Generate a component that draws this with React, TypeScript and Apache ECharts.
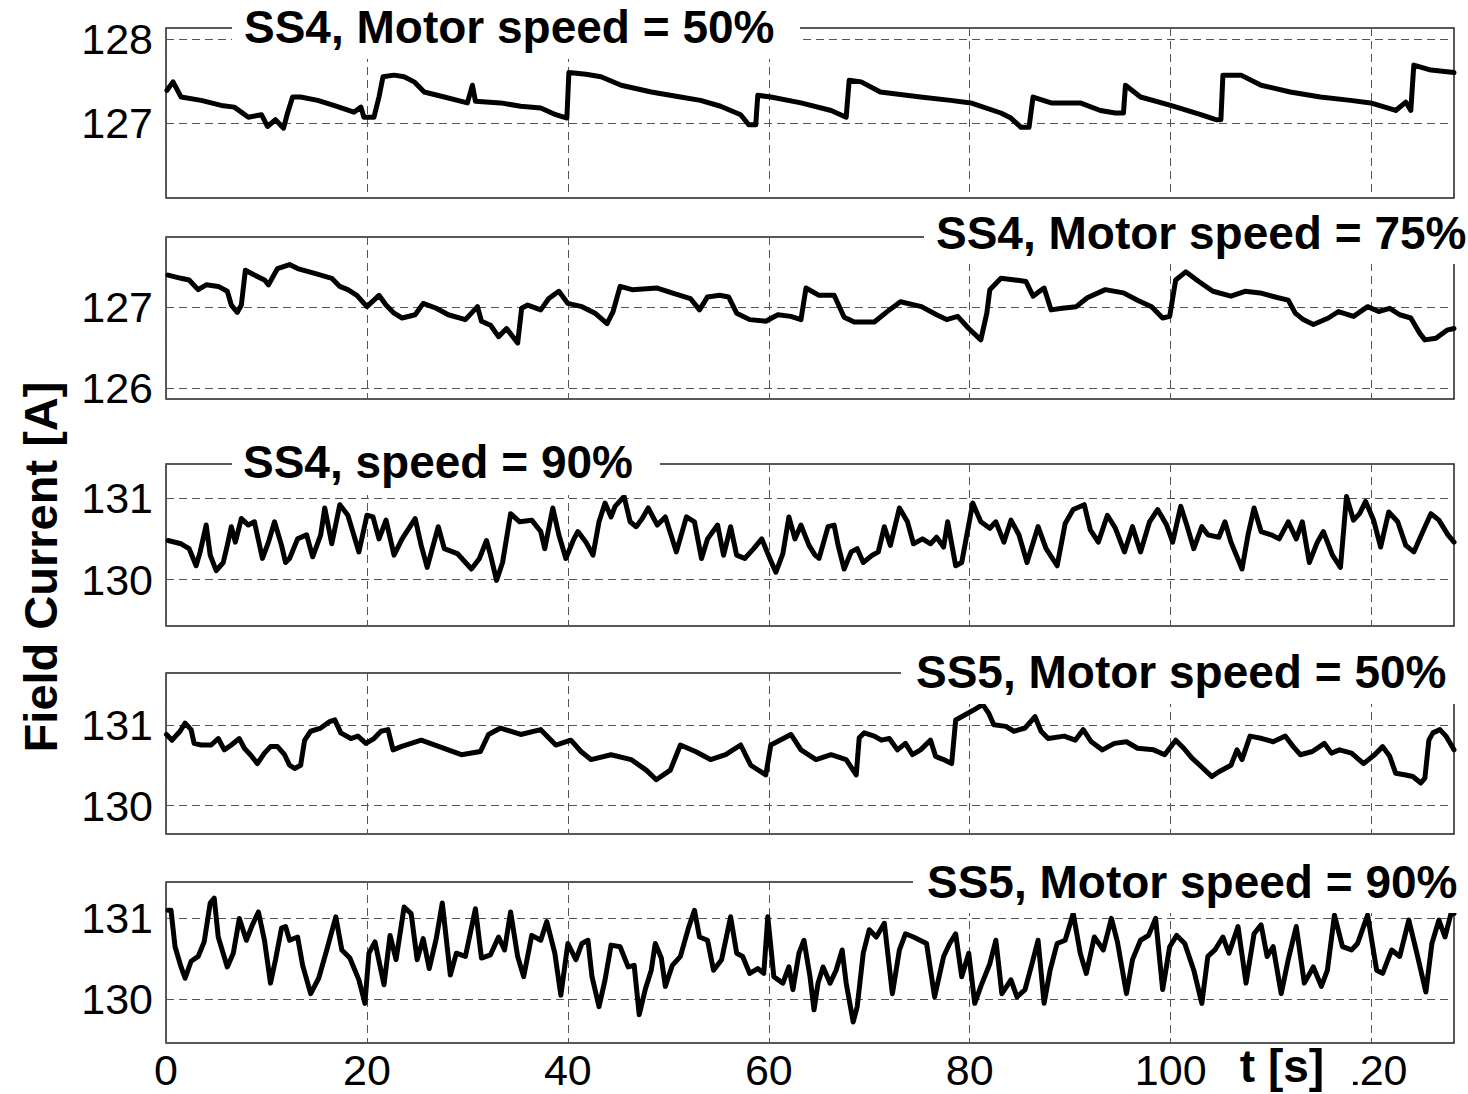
import { useEffect, useRef } from "react";
import * as echarts from "echarts";

const xTicks = [0, 20, 40, 60, 80, 100, 120];
const tMax = 128.2;

const panelTitles = [
  "SS4, Motor speed = 50%",
  "SS4, Motor speed = 75%",
  "SS4, speed = 90%",
  "SS5, Motor speed = 50%",
  "SS5, Motor speed = 90%",
];
const yTicks = [[127, 128], [126, 127], [130, 131], [130, 131], [130, 131]];
const yMins = [126.11, 125.87, 129.43, 129.65, 129.46];
const yMaxs = [128.13, 127.87, 131.42, 131.64, 131.45];

const ss4Speed50: [number, number][] = [
  [0.1,127.39],[0.7,127.49],[1.5,127.31],[3.5,127.27],[5.5,127.21],[6.8,127.19],[8.2,127.07],[9.5,127.10],
  [10.1,126.96],[10.9,127.04],[11.7,126.94],[12.1,127.12],[12.6,127.31],[13.4,127.31],[15.1,127.27],[16.7,127.21],
  [18.7,127.13],[19.4,127.19],[19.7,127.07],[20.7,127.07],[21.2,127.31],[21.6,127.55],[22.7,127.57],[23.7,127.55],
  [24.7,127.49],[25.7,127.37],[27.7,127.31],[30.0,127.24],[30.5,127.45],[30.8,127.26],[33.3,127.24],[35.3,127.20],
  [37.3,127.18],[38.8,127.10],[39.9,127.06],[40.1,127.60],[41.8,127.58],[43.3,127.55],[45.3,127.45],[48.3,127.37],
  [51.2,127.31],[53.2,127.27],[55.2,127.20],[57.2,127.10],[58.0,126.98],[58.7,126.98],[58.9,127.33],[60.2,127.31],
  [63.2,127.24],[66.2,127.15],[67.7,127.07],[68.0,127.51],[69.2,127.49],[71.1,127.37],[75.1,127.31],[78.1,127.27],
  [80.1,127.24],[83.1,127.12],[84.1,127.06],[85.1,126.95],[85.9,126.95],[86.3,127.31],[88.1,127.24],[91.0,127.24],
  [93.0,127.15],[94.5,127.12],[95.3,127.12],[95.5,127.45],[97.0,127.31],[100.0,127.21],[103.0,127.10],[104.5,127.04],
  [105.0,127.04],[105.2,127.57],[107.0,127.57],[109.0,127.45],[111.9,127.37],[114.9,127.31],[117.9,127.27],[119.9,127.24],
  [122.4,127.15],[123.4,127.25],[123.9,127.15],[124.2,127.69],[125.9,127.63],[128.2,127.60],
];

const ss4Speed75: [number, number][] = [
  [0.2,127.40],[1.5,127.36],[2.3,127.34],[3.2,127.22],[4,127.28],[5.2,127.26],[6.1,127.20],[6.5,127.03],[7.1,126.94],
  [7.5,127.03],[7.9,127.46],[8.8,127.40],[9.8,127.34],[10.2,127.28],[11.1,127.48],[12.3,127.53],[13.1,127.48],[14.8,127.42],
  [16.5,127.36],[17.3,127.26],[18.1,127.22],[19,127.15],[20,127.01],[21.2,127.15],[21.9,127.03],[22.7,126.93],[23.5,126.87],
  [24.8,126.91],[25.6,127.05],[26.9,126.99],[28.1,126.91],[29.8,126.85],[31,127.01],[31.4,126.83],[32.3,126.78],[33.1,126.64],
  [33.9,126.74],[35,126.56],[35.4,126.99],[36,127.03],[37.3,126.97],[38.1,127.11],[39.1,127.20],[40,127.05],[41.4,127.01],
  [42.7,126.93],[43.9,126.80],[44.5,126.95],[45.2,127.26],[46.4,127.22],[48.9,127.24],[50.6,127.17],[52.2,127.11],[53.1,126.97],
  [53.9,127.13],[55.1,127.15],[56,127.13],[56.8,126.93],[58.1,126.85],[59.7,126.83],[60.9,126.91],[62.2,126.89],[63.2,126.85],
  [63.7,127.24],[65,127.15],[66.5,127.15],[67.5,126.88],[68.5,126.82],[70.5,126.82],[72,126.97],[73.1,127.07],[75.2,127.01],
  [76.7,126.91],[77.7,126.85],[78.8,126.89],[79.9,126.74],[81.1,126.60],[81.7,126.93],[82,127.22],[83.1,127.36],[84.5,127.34],
  [85.6,127.32],[86.3,127.14],[87.4,127.24],[88.1,126.97],[89.2,126.99],[90.6,127.01],[91.7,127.12],[93.5,127.22],[95.3,127.18],
  [96.7,127.09],[98.1,127.01],[99.2,126.87],[99.9,126.89],[100.5,127.34],[101.5,127.44],[102.8,127.32],[104.2,127.20],[106,127.14],
  [107.4,127.20],[108.9,127.18],[110.7,127.12],[111.7,127.09],[112.4,126.93],[113.2,126.85],[114.2,126.79],[115.7,126.87],
  [116.7,126.95],[118.2,126.89],[119.6,127.01],[120.7,126.95],[121.8,126.99],[122.8,126.91],[123.9,126.87],[124.8,126.68],
  [125.3,126.60],[126.4,126.62],[127.5,126.72],[128.2,126.74],
];

const ss4Speed90: [number, number][] = [
  [0.2,130.48],[1.5,130.44],[2.3,130.38],[3,130.17],[3.4,130.34],[4,130.67],[4.4,130.30],[5,130.11],[5.7,130.21],[6.1,130.42],
  [6.5,130.65],[6.9,130.46],[7.5,130.75],[8.2,130.67],[8.8,130.71],[9.6,130.26],[10.2,130.46],[10.8,130.71],[11.5,130.42],
  [11.9,130.21],[12.3,130.26],[13.1,130.50],[14,130.55],[14.6,130.28],[15.4,130.55],[15.8,130.88],[16.5,130.44],[17.3,130.92],
  [18.1,130.79],[19.2,130.34],[20,130.79],[20.6,130.77],[21.2,130.50],[21.9,130.73],[22.7,130.30],[23.5,130.50],[24.8,130.75],
  [25.4,130.42],[26,130.15],[27.1,130.65],[27.7,130.38],[29,130.32],[30.4,130.13],[31.2,130.26],[31.9,130.48],[32.3,130.30],
  [32.9,129.99],[33.5,130.21],[34.3,130.81],[35.2,130.71],[36.4,130.73],[37.3,130.59],[37.7,130.38],[38.5,130.88],[39.1,130.55],
  [39.8,130.26],[40.6,130.50],[41,130.59],[41.8,130.46],[42.5,130.30],[43.1,130.71],[43.7,130.94],[44.3,130.77],[44.7,130.90],
  [45.6,131.02],[46.2,130.71],[46.8,130.65],[47.4,130.75],[48,130.88],[48.9,130.67],[49.7,130.77],[50.8,130.34],[51.8,130.77],
  [52.6,130.71],[53.3,130.26],[53.9,130.50],[54.9,130.67],[55.5,130.30],[56.2,130.65],[56.8,130.30],[57.6,130.26],[58.5,130.38],
  [59.3,130.50],[60.1,130.26],[60.7,130.09],[61.4,130.32],[62,130.77],[62.6,130.50],[63.2,130.67],[64,130.42],[64.6,130.30],
  [65,130.26],[65.9,130.65],[66.5,130.67],[66.9,130.42],[67.5,130.13],[68.2,130.34],[68.8,130.38],[69.4,130.21],[70.3,130.30],
  [70.9,130.34],[71.5,130.65],[72.1,130.42],[73,130.88],[73.8,130.71],[74.4,130.44],[75.3,130.50],[76.1,130.44],[76.7,130.52],
  [77.4,130.40],[77.8,130.71],[78.6,130.17],[79.2,130.21],[80.3,130.94],[81.1,130.71],[82,130.63],[82.6,130.71],[83.4,130.46],
  [84.1,130.73],[84.9,130.55],[85.7,130.21],[86.8,130.65],[87.6,130.38],[88.7,130.17],[89.5,130.69],[90.3,130.86],[91.4,130.92],
  [92,130.61],[92.8,130.46],[93.7,130.79],[94.5,130.63],[95.4,130.34],[96.2,130.65],[97,130.34],[97.9,130.71],[98.7,130.86],
  [99.6,130.67],[100.2,130.46],[101,130.90],[101.6,130.67],[102.3,130.38],[103.1,130.65],[103.7,130.55],[104.8,130.52],
  [105.4,130.71],[106,130.46],[107.1,130.13],[107.7,130.55],[108.3,130.88],[109,130.59],[110,130.55],[110.8,130.50],[111.7,130.71],
  [112.5,130.50],[113.1,130.71],[113.8,130.21],[114.6,130.46],[115.2,130.59],[116.1,130.30],[116.9,130.15],[117.5,131.02],
  [118.2,130.73],[118.8,130.81],[119.4,130.96],[120.2,130.73],[120.9,130.40],[121.7,130.83],[122.6,130.71],[123.4,130.42],
  [124.2,130.34],[125.1,130.59],[125.9,130.81],[126.7,130.73],[127.6,130.55],[128.2,130.46],
];

const ss5Speed50: [number, number][] = [
  [0.05,130.88],[0.6,130.81],[1.4,130.92],[1.9,131.02],[2.5,130.94],[2.8,130.77],[3.5,130.75],[4.5,130.75],[5.2,130.83],
  [5.8,130.69],[6.5,130.75],[7.3,130.83],[7.8,130.71],[8.4,130.63],[9.1,130.52],[9.8,130.65],[10.4,130.73],[11.1,130.73],
  [11.8,130.63],[12.3,130.50],[12.8,130.46],[13.4,130.50],[13.8,130.81],[14.4,130.92],[15.4,130.96],[16.3,131.04],[16.8,131.06],
  [17.4,130.90],[18.4,130.83],[19.1,130.86],[19.9,130.77],[20.7,130.83],[21.4,130.92],[22.1,130.94],[22.6,130.69],[23.4,130.73],
  [25.4,130.81],[27.4,130.72],[29.4,130.63],[31.3,130.67],[32.1,130.88],[33.3,130.96],[35.3,130.88],[37.3,130.94],[38.8,130.75],
  [40.3,130.81],[41.3,130.67],[42.3,130.57],[44.3,130.63],[46.3,130.57],[47.8,130.44],[48.8,130.32],[50.2,130.44],[51.2,130.75],
  [52.7,130.67],[54.2,130.57],[55.7,130.63],[57.2,130.75],[58.2,130.50],[59.7,130.38],[60.2,130.75],[62.2,130.88],[63.2,130.69],
  [64.7,130.57],[66.2,130.63],[67.7,130.57],[68.7,130.38],[69.0,130.84],[69.5,130.90],[70.5,130.86],[71.2,130.81],[72,130.83],
  [72.8,130.69],[73.6,130.77],[74.3,130.63],[75.1,130.69],[76.1,130.81],[76.6,130.61],[77.4,130.57],[78.2,130.52],[78.6,131.06],
  [79.5,131.12],[80.5,131.19],[81.3,131.25],[81.9,131.14],[82.4,131.00],[83.6,130.98],[84.4,130.92],[85.5,130.96],[86.5,131.10],
  [87.1,130.92],[87.8,130.83],[89.4,130.86],[90.5,130.81],[91.3,130.94],[92.1,130.79],[93.2,130.69],[94.4,130.77],[95.6,130.79],
  [96.7,130.71],[98.3,130.69],[99.4,130.63],[100.5,130.81],[101.3,130.71],[102.1,130.59],[102.9,130.50],[104.1,130.36],
  [104.8,130.42],[106,130.50],[106.6,130.69],[107.1,130.57],[107.9,130.86],[109.1,130.83],[110.2,130.79],[111.4,130.86],
  [112.2,130.73],[112.9,130.63],[114.1,130.67],[115.3,130.77],[116,130.65],[116.8,130.69],[118,130.65],[119.2,130.52],
  [120.3,130.63],[121.1,130.73],[121.8,130.61],[122.4,130.40],[123.4,130.38],[124.1,130.36],[124.9,130.28],[125.3,130.34],
  [125.7,130.81],[126.1,130.90],[126.8,130.94],[127.4,130.86],[128.2,130.69],
];

const ss5Speed90: [number, number][] = [
  [0.2,131.10],[0.5,131.10],[0.9,130.65],[1.5,130.40],[1.9,130.26],[2.5,130.47],[3.2,130.53],[3.8,130.71],[4.4,131.19],
  [4.8,131.25],[5.2,130.77],[6.1,130.40],[6.7,130.57],[7.3,131.00],[8,130.73],[8.6,130.92],[9.2,131.08],[9.8,130.73],
  [10.4,130.20],[10.9,130.49],[11.5,130.88],[11.9,130.90],[12.3,130.73],[13.1,130.77],[13.6,130.42],[14.4,130.07],[15.2,130.26],
  [16,130.61],[16.9,131.02],[17.5,130.61],[18.3,130.51],[19.2,130.24],[19.8,129.95],[20.2,130.57],[20.8,130.71],[21.7,130.18],
  [22.3,130.79],[22.9,130.49],[23.7,131.14],[24.4,131.06],[25,130.49],[25.6,130.75],[26.2,130.38],[26.9,130.75],[27.5,131.19],
  [28.3,130.30],[28.9,130.57],[29.8,130.53],[30.8,131.12],[31.4,130.51],[32.3,130.55],[33.1,130.77],[33.7,130.61],[34.3,131.08],
  [35,130.53],[35.6,130.28],[36.4,130.79],[37.3,130.73],[37.9,130.96],[38.7,130.57],[39.3,130.05],[40,130.69],[40.8,130.49],
  [41.4,130.69],[42,130.73],[42.4,130.28],[43.1,129.91],[43.7,130.24],[44.3,130.67],[45.2,130.65],[46,130.40],[46.6,130.42],
  [47.1,129.81],[47.7,130.12],[48.3,130.36],[48.7,130.69],[49.3,130.51],[49.7,130.16],[50.4,130.42],[51.2,130.53],[52,130.88],
  [52.6,131.10],[53.1,130.77],[53.9,130.73],[54.5,130.36],[55.3,130.49],[56.2,131.02],[56.8,130.57],[57.4,130.53],[58.1,130.32],
  [58.9,130.38],[59.5,130.32],[59.9,131.02],[60.5,130.28],[61.4,130.20],[62,130.40],[62.4,130.12],[63,130.57],[63.5,130.73],
  [64.1,130.28],[64.5,129.87],[64.9,130.20],[65.4,130.40],[66.1,130.20],[66.7,130.36],[67.3,130.61],[67.7,130.20],[68.4,129.72],
  [68.8,129.91],[69.4,130.57],[70,130.86],[70.7,130.77],[71.5,130.94],[72.3,130.07],[73,130.61],[73.6,130.81],[74.4,130.77],
  [75.7,130.69],[76.5,130.03],[77.4,130.53],[78,130.69],[78.6,130.81],[79.2,130.28],[79.9,130.57],[80.5,129.95],[81.1,130.16],
  [82,130.44],[82.6,130.73],[83.2,130.07],[84.1,130.24],[84.7,130.03],[85.5,130.12],[86.2,130.44],[86.8,130.73],[87.4,129.95],
  [88,130.36],[88.7,130.69],[89.5,130.73],[90.3,131.06],[91,130.57],[91.6,130.32],[92.4,130.77],[93.3,130.61],[94.1,131.00],
  [94.7,130.71],[95.6,130.07],[96.2,130.49],[97,130.73],[97.8,130.79],[98.5,131.00],[99.2,130.12],[99.9,130.65],[100.6,130.79],
  [101.4,130.69],[102.3,130.36],[103.1,129.95],[103.7,130.53],[104.4,130.61],[105.2,130.77],[105.8,130.57],[106.7,130.90],
  [107.5,130.20],[108.3,130.81],[109,130.92],[109.6,130.53],[110.2,130.65],[111,130.07],[111.7,130.49],[112.5,130.90],
  [113.3,130.20],[114.2,130.40],[115,130.16],[115.6,130.36],[116.3,131.04],[117.1,130.65],[118,130.61],[118.6,130.69],
  [119.6,131.04],[120.5,130.36],[121.1,130.32],[122,130.61],[122.8,130.53],[123.7,130.98],[124.5,130.57],[125.4,130.09],
  [126,130.69],[126.7,130.98],[127.3,130.77],[127.9,131.06],[128.2,131.06],
];

const seriesData = [ss4Speed50, ss4Speed75, ss4Speed90, ss5Speed50, ss5Speed90];

// layout (pixels)
const plotLeft = 166;
const plotWidth = 1288;
const panelTops = [28, 237, 464, 673, 882];
const panelHeights = [170, 162, 162, 161, 161];
const titleBoxes = [
  { x: 232, y: -4, w: 568, h: 63, tx: 244, ty: 27 },
  { x: 924, y: 202, w: 544, h: 62, tx: 936, ty: 233 },
  { x: 232, y: 430, w: 428, h: 65, tx: 243, ty: 462 },
  { x: 901, y: 642, w: 567, h: 62, tx: 916, ty: 672 },
  { x: 913, y: 851, w: 555, h: 62, tx: 927, ty: 882 },
];
const FONT = '"Liberation Sans", Arial, Helvetica, sans-serif';

export default function App() {
  const ref = useRef<HTMLDivElement>(null);
  useEffect(() => {
    if (!ref.current) return;
    const chart = echarts.init(ref.current, null, { renderer: "svg" });
    const splitLineStyle = { color: "#555", width: 1, type: [8, 5] as number[] };
    const option: any = {
      animation: false,
      backgroundColor: "#fff",
      grid: panelTops.map((top, i) => ({
        left: plotLeft,
        width: plotWidth,
        top,
        height: panelHeights[i],
        show: true,
        borderColor: "#222",
        borderWidth: 1.5,
        backgroundColor: "transparent",
      })),
      xAxis: panelTops.map((_, i) => ({
        gridIndex: i,
        type: "value",
        min: 0,
        max: tMax,
        interval: 20,
        axisLine: { show: false },
        axisTick: { show: false, customValues: xTicks },
        axisLabel: {
          show: i === 4,
          customValues: xTicks,
          fontSize: 43,
          lineHeight: 43,
          color: "#000",
          fontFamily: FONT,
          margin: 5,
        },
        splitLine: { show: true, lineStyle: splitLineStyle },
      })),
      yAxis: panelTops.map((_, i) => ({
        gridIndex: i,
        type: "value",
        min: yMins[i],
        max: yMaxs[i],
        axisLine: { show: false },
        axisTick: { show: false, customValues: yTicks[i] },
        axisLabel: {
          customValues: yTicks[i],
          fontSize: 43,
          color: "#000",
          fontFamily: FONT,
          margin: 13,
        },
        splitLine: { show: true, lineStyle: splitLineStyle },
      })),
      series: seriesData.map((d, i) => ({
        type: "line",
        xAxisIndex: i,
        yAxisIndex: i,
        data: d,
        showSymbol: false,
        symbol: "none",
        lineStyle: { color: "#000", width: 5, join: "round", cap: "round" },
        silent: true,
        z: 3,
      })),
      graphic: [
        ...titleBoxes.map((b) => ({
          type: "rect",
          z: 100,
          shape: { x: b.x, y: b.y, width: b.w, height: b.h },
          style: { fill: "#fff" },
          silent: true,
        })),
        ...titleBoxes.map((b, i) => ({
          type: "text",
          z: 101,
          x: b.tx,
          y: b.ty,
          style: {
            text: panelTitles[i],
            font: `bold 46px ${FONT}`,
            fill: "#000",
            align: "left",
            verticalAlign: "middle",
          },
          silent: true,
        })),
        {
          type: "rect",
          z: 100,
          shape: { x: 1232, y: 1044, width: 121, height: 60 },
          style: { fill: "#fff" },
          silent: true,
        },
        {
          type: "text",
          z: 101,
          x: 1282,
          y: 1066,
          style: {
            text: "t [s]",
            font: `bold 46px ${FONT}`,
            fill: "#000",
            align: "center",
            verticalAlign: "middle",
          },
          silent: true,
        },
        {
          type: "text",
          z: 101,
          x: 40,
          y: 567,
          rotation: Math.PI / 2,
          style: {
            text: "Field Current [A]",
            font: `bold 47px ${FONT}`,
            fill: "#000",
            align: "center",
            verticalAlign: "middle",
          },
          silent: true,
        },
      ],
    };
    chart.setOption(option);
    return () => chart.dispose();
  }, []);
  return (
    <div
      ref={ref}
      style={{ position: "fixed", left: 0, top: 0, width: 1468, height: 1094, background: "#fff" }}
    />
  );
}
